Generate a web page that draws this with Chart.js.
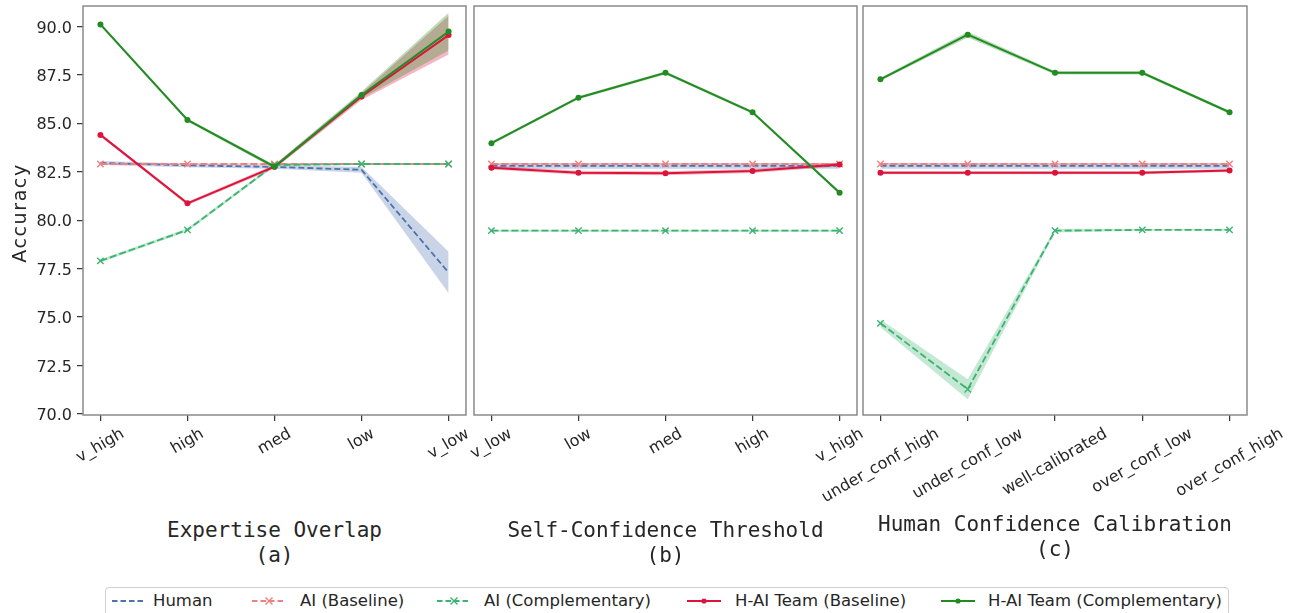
<!DOCTYPE html>
<html>
<head>
<meta charset="utf-8">
<script src="https://cdn.jsdelivr.net/npm/chart.js@4.4.1/dist/chart.umd.min.js"></script>
<style>
  html,body{margin:0;padding:0;background:#fff;}
  body{width:1291px;height:613px;overflow:hidden;position:relative;font-family:'DejaVu Sans',sans-serif;color:#262626;}
  canvas{position:absolute;top:0;}
  .xl{position:absolute;width:420px;font-family:'DejaVu Sans Mono',monospace;font-size:21px;line-height:25px;text-align:center;white-space:pre;color:#262626;}
  #ylab{position:absolute;left:-41px;top:200.5px;width:120px;height:24px;line-height:24px;text-align:center;font-size:19px;letter-spacing:1.6px;transform:rotate(-90deg);transform-origin:50% 50%;color:#262626;white-space:nowrap;}
  #legend{position:absolute;left:105px;top:587px;width:1124px;height:40px;border:1px solid #cfcfcf;border-radius:4px;box-sizing:border-box;background:#fff;}
  .lt{position:absolute;top:591px;font-size:16.5px;line-height:20px;white-space:nowrap;color:#262626;}
  .ls{position:absolute;top:595px;}
</style>
</head>
<body>
<canvas id="ca" width="480" height="515" style="left:0px"></canvas>
<canvas id="cb" width="410" height="515" style="left:462px"></canvas>
<canvas id="cc" width="481" height="515" style="left:810px"></canvas>

<div id="ylab">Accuracy</div>
<div class="xl" style="left:64.5px;top:517.5px">Expertise Overlap
(a)</div>
<div class="xl" style="left:455.5px;top:517.5px">Self-Confidence Threshold
(b)</div>
<div class="xl" style="left:845px;top:511.5px">Human Confidence Calibration
(c)</div>

<div id="legend"></div>
<svg class="ls" style="left:112px" width="34" height="12"><line x1="0" y1="6" x2="34" y2="6" stroke="#4c72b0" stroke-width="1.8" stroke-dasharray="5.5,3"/></svg>
<div class="lt" style="left:153px">Human</div>
<svg class="ls" style="left:252px" width="34" height="12"><line x1="0" y1="6" x2="34" y2="6" stroke="#f08080" stroke-width="1.8" stroke-dasharray="5.5,3"/><path d="M13.5 2.5 L20.5 9.5 M20.5 2.5 L13.5 9.5" stroke="#f08080" stroke-width="1.4"/></svg>
<div class="lt" style="left:300px">AI (Baseline)</div>
<svg class="ls" style="left:437px" width="34" height="12"><line x1="0" y1="6" x2="34" y2="6" stroke="#3cb371" stroke-width="1.8" stroke-dasharray="5.5,3"/><path d="M13.5 2.5 L20.5 9.5 M20.5 2.5 L13.5 9.5" stroke="#3cb371" stroke-width="1.4"/></svg>
<div class="lt" style="left:484px">AI (Complementary)</div>
<svg class="ls" style="left:687px" width="34" height="12"><line x1="0" y1="6" x2="34" y2="6" stroke="#dc143c" stroke-width="2"/><circle cx="17" cy="6" r="2.6" fill="#dc143c"/></svg>
<div class="lt" style="left:735px">H-AI Team (Baseline)</div>
<svg class="ls" style="left:941px" width="34" height="12"><line x1="0" y1="6" x2="34" y2="6" stroke="#228b22" stroke-width="2"/><circle cx="17" cy="6" r="2.6" fill="#228b22"/></svg>
<div class="lt" style="left:988px">H-AI Team (Complementary)</div>

<script>
// ---------------- DATA ----------------
const catsA = ['v_high', 'high', 'med', 'low', 'v_low'];
const catsB = ['v_low', 'low', 'med', 'high', 'v_high'];
const catsC = ['under_conf_high', 'under_conf_low', 'well-calibrated', 'over_conf_low', 'over_conf_high'];
const yTicks = [70.0, 72.5, 75.0, 77.5, 80.0, 82.5, 85.0, 87.5, 90.0];

// Panel (a) Expertise Overlap: means and CI half-widths
const humanA      = [82.95, 82.83, 82.75, 82.60, 77.30];
const humanA_ci   = [0.10, 0.10, 0.10, 0.15, 1.07];
const aiBaseA     = [82.90, 82.90, 82.90, 82.90, 82.90];
const aiBaseA_ci  = [0.05, 0.05, 0.05, 0.05, 0.05];
const aiCompA     = [77.90, 79.50, 82.85, 82.90, 82.90];
const aiCompA_ci  = [0.08, 0.08, 0.08, 0.05, 0.05];
const teamBaseA   = [84.40, 80.87, 82.76, 86.38, 89.55];
const teamBaseA_ci= [0.08, 0.08, 0.10, 0.18, 1.00];
const teamCompA   = [90.10, 85.17, 82.76, 86.46, 89.73];
const teamCompA_ci= [0.08, 0.08, 0.10, 0.18, 0.97];

// Panel (b) Self-Confidence Threshold
const humanB      = [82.80, 82.80, 82.80, 82.80, 82.80];
const humanB_ci   = [0.15, 0.15, 0.15, 0.15, 0.15];
const aiBaseB     = [82.90, 82.90, 82.90, 82.90, 82.90];
const aiBaseB_ci  = [0.05, 0.05, 0.05, 0.05, 0.05];
const aiCompB     = [79.46, 79.46, 79.46, 79.46, 79.46];
const aiCompB_ci  = [0.05, 0.05, 0.05, 0.05, 0.05];
const teamBaseB   = [82.71, 82.45, 82.42, 82.54, 82.87];
const teamBaseB_ci= [0.10, 0.10, 0.10, 0.10, 0.10];
const teamCompB   = [83.97, 86.32, 87.60, 85.57, 81.42];
const teamCompB_ci= [0.08, 0.08, 0.08, 0.08, 0.08];

// Panel (c) Human Confidence Calibration
const humanC      = [82.80, 82.80, 82.80, 82.80, 82.80];
const humanC_ci   = [0.15, 0.15, 0.15, 0.15, 0.15];
const aiBaseC     = [82.90, 82.90, 82.90, 82.90, 82.90];
const aiBaseC_ci  = [0.05, 0.05, 0.05, 0.05, 0.05];
const aiCompC     = [74.68, 71.28, 79.46, 79.50, 79.50];
const aiCompC_ci  = [0.20, 0.52, 0.10, 0.05, 0.05];
const teamBaseC   = [82.45, 82.45, 82.45, 82.45, 82.56];
const teamBaseC_ci= [0.08, 0.08, 0.08, 0.08, 0.08];
const teamCompC   = [87.27, 89.57, 87.60, 87.60, 85.57];
const teamCompC_ci= [0.08, 0.15, 0.08, 0.08, 0.08];

// ---------------- STYLES ----------------
const seriesStyles = [ // top-most first (Chart.js draws dataset 0 last)
  {key:'teamComp', label:'H-AI Team (Complementary)', color:'#228b22', fill:'rgba(34,139,34,0.3)',  dash:[],    point:'circle',   r:3,   pbw:0,   bw:2},
  {key:'teamBase', label:'H-AI Team (Baseline)',      color:'#dc143c', fill:'rgba(220,20,60,0.3)',  dash:[],    point:'circle',   r:3,   pbw:0,   bw:2},
  {key:'aiComp',   label:'AI (Complementary)',        color:'#3cb371', fill:'rgba(60,179,113,0.3)', dash:[7,3], point:'crossRot', r:4.5, pbw:1.4, bw:1.8},
  {key:'aiBase',   label:'AI (Baseline)',             color:'#f08080', fill:'rgba(240,128,128,0.3)',dash:[7,3], point:'crossRot', r:4.5, pbw:1.4, bw:1.8},
  {key:'human',    label:'Human',                     color:'#4c72b0', fill:'rgba(76,114,176,0.3)', dash:[6,3], point:'circle',   r:0,   pbw:0,   bw:1.8}
];

const panelA = {human:[humanA,humanA_ci], aiBase:[aiBaseA,aiBaseA_ci], aiComp:[aiCompA,aiCompA_ci], teamBase:[teamBaseA,teamBaseA_ci], teamComp:[teamCompA,teamCompA_ci]};
const panelB = {human:[humanB,humanB_ci], aiBase:[aiBaseB,aiBaseB_ci], aiComp:[aiCompB,aiCompB_ci], teamBase:[teamBaseB,teamBaseB_ci], teamComp:[teamCompB,teamCompB_ci]};
const panelC = {human:[humanC,humanC_ci], aiBase:[aiBaseC,aiBaseC_ci], aiComp:[aiCompC,aiCompC_ci], teamBase:[teamBaseC,teamBaseC_ci], teamComp:[teamCompC,teamCompC_ci]};

function buildDatasets(panel) {
  const lines = seriesStyles.map(s => {
    const m = panel[s.key][0];
    return {
      label: s.label,
      data: m.map((v, i) => ({x: i, y: v})),
      borderColor: s.color, backgroundColor: s.color,
      borderWidth: s.bw, borderDash: s.dash,
      pointStyle: s.point, pointRadius: s.r, pointHoverRadius: s.r,
      pointBorderColor: s.color, pointBackgroundColor: s.color, pointBorderWidth: s.pbw,
      fill: false, tension: 0
    };
  });
  const bands = [];
  seriesStyles.forEach(s => {
    const m = panel[s.key][0], e = panel[s.key][1];
    const upIdx = lines.length + bands.length;
    bands.push({label: s.label + ' hi', data: m.map((v, i) => ({x: i, y: v + e[i]})),
      borderWidth: 0, borderColor: 'rgba(0,0,0,0)', pointRadius: 0, pointHoverRadius: 0, fill: false});
    bands.push({label: s.label + ' lo', data: m.map((v, i) => ({x: i, y: v - e[i]})),
      borderWidth: 0, borderColor: 'rgba(0,0,0,0)', pointRadius: 0, pointHoverRadius: 0,
      fill: upIdx, backgroundColor: s.fill});
  });
  return lines.concat(bands);
}

// frame plugin (axes box)
const framePlugin = {
  id: 'frame',
  afterDatasetsDraw(chart) {
    const {ctx, chartArea: a} = chart;
    ctx.save();
    ctx.strokeStyle = '#8a8a8a';
    ctx.lineWidth = 1.5;
    ctx.strokeRect(a.left, a.top, a.right - a.left, a.bottom - a.top);
    ctx.restore();
  }
};

// rotated, centre-aligned category labels (matplotlib rotation=30, ha=center)
const xLabelPlugin = {
  id: 'xlabels',
  afterDraw(chart, args, opts) {
    const s = chart.scales.x, ctx = chart.ctx;
    const ang = 30 * Math.PI / 180, h = 18;
    const top = chart.chartArea.bottom + 10;
    ctx.save();
    ctx.font = '16px "DejaVu Sans"';
    ctx.fillStyle = '#262626';
    opts.labels.forEach((t, i) => {
      const w = ctx.measureText(t).width;
      const H = w * Math.sin(ang) + h * Math.cos(ang);
      const x = s.getPixelForValue(i);
      ctx.save();
      ctx.translate(x, top + H / 2);
      ctx.rotate(-ang);
      ctx.textAlign = 'center';
      ctx.textBaseline = 'middle';
      ctx.fillText(t, 0, 0);
      ctx.restore();
    });
    ctx.restore();
  }
};

function makeChart(id, panel, cats, showY, pad) {
  const yScale = {
    type: 'linear', min: 69.95, max: 91.05,
    display: showY,
    afterBuildTicks: sc => { sc.ticks = yTicks.map(v => ({value: v})); },
    ticks: {font: {family: 'DejaVu Sans', size: 16}, color: '#262626', padding: 5, labelOffset: 2,
            callback: v => Number(v).toFixed(1)},
    grid: {display: true, drawOnChartArea: false, drawTicks: true, tickLength: 6, color: '#3a3a3a', lineWidth: 1.25},
    border: {display: false},
    afterFit: sc => {
      if (showY) sc.width = 83;
      sc.paddingTop = 0; sc.paddingBottom = 0;
    }
  };
  return new Chart(document.getElementById(id), {
    type: 'line',
    data: {datasets: buildDatasets(panel)},
    plugins: [framePlugin, xLabelPlugin],
    options: {
      responsive: false, animation: false, events: [],
      layout: {padding: {top: 6, left: pad[0], right: pad[1], bottom: 0}},
      plugins: {
        legend: {display: false}, tooltip: {enabled: false},
        filler: {drawTime: 'beforeDatasetsDraw'},
        xlabels: {labels: cats}
      },
      scales: {
        x: {
          type: 'linear', min: -0.2, max: 4.2,
          afterBuildTicks: sc => { sc.ticks = cats.map((c, i) => ({value: i})); },
          ticks: {display: false},
          grid: {display: true, drawOnChartArea: false, drawTicks: true, tickLength: 6, color: '#3a3a3a', lineWidth: 1.25},
          border: {display: false},
          afterFit: sc => { sc.height = 100; sc.paddingLeft = 0; sc.paddingRight = 0; }
        },
        y: yScale
      }
    }
  });
}

makeChart('ca', panelA, catsA, true, [0, 14]);
makeChart('cb', panelB, catsB, false, [12, 15]);
makeChart('cc', panelC, catsC, false, [53, 44]);
</script>
</body>
</html>
